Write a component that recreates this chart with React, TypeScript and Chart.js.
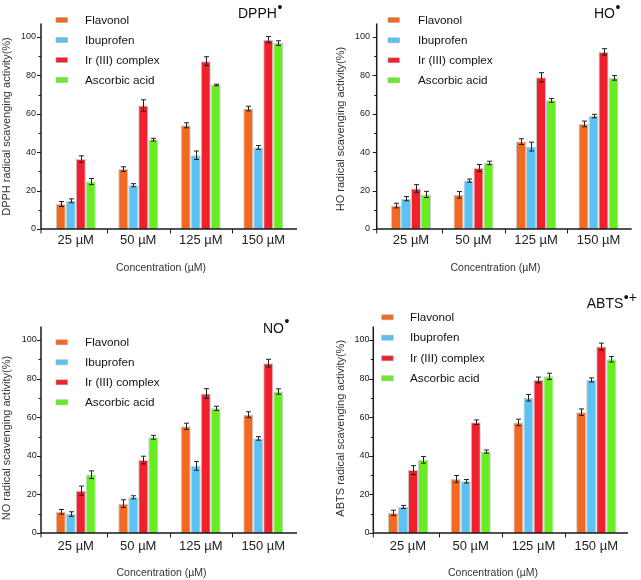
import React, { useEffect, useRef } from "react";
import { Chart, registerables } from "chart.js";
Chart.register(...registerables);

const FONT = "'Liberation Sans', Arial, sans-serif";

// ---------- data ----------
const categories = ["25 µM", "50 µM", "125 µM", "150 µM"];
const seriesNames = ["Flavonol", "Ibuprofen", "Ir (III) complex", "Ascorbic acid"];
const yTickValues = [0, 20, 40, 60, 80, 100];
const yMinorTickValues = [10, 30, 50, 70, 90];
const xAxisTitle = "Concentration (µM)";

const dpphFlavonol = [13.0, 31.2, 54.0, 62.7];
const dpphFlavonolErr = [1.3, 1.2, 1.3, 1.2];
const dpphIbuprofen = [14.7, 22.8, 38.4, 42.5];
const dpphIbuprofenErr = [1.0, 0.8, 2.2, 1.0];
const dpphIr = [36.4, 64.3, 87.4, 98.6];
const dpphIrErr = [1.7, 3.0, 2.3, 1.6];
const dpphAscorbic = [24.7, 46.5, 75.0, 96.8];
const dpphAscorbicErr = [1.6, 0.7, 0.4, 1.2];

const hoFlavonol = [12.2, 17.8, 45.5, 54.7];
const hoFlavonolErr = [1.2, 1.7, 1.5, 1.5];
const hoIbuprofen = [15.8, 25.2, 42.9, 58.8];
const hoIbuprofenErr = [1.1, 0.8, 2.3, 0.9];
const hoIr = [21.1, 31.8, 79.0, 92.2];
const hoIrErr = [2.0, 1.8, 2.4, 1.7];
const hoAscorbic = [18.0, 34.4, 67.0, 78.7];
const hoAscorbicErr = [1.6, 0.9, 1.0, 1.2];

const noFlavonol = [11.0, 15.2, 55.3, 61.3];
const noFlavonolErr = [1.2, 2.0, 1.6, 1.5];
const noIbuprofen = [9.8, 18.5, 34.8, 49.0];
const noIbuprofenErr = [1.2, 0.8, 2.3, 0.9];
const noIr = [21.9, 37.8, 72.3, 88.0];
const noIrErr = [2.4, 2.0, 2.5, 2.0];
const noAscorbic = [30.2, 49.6, 64.6, 73.3];
const noAscorbicErr = [2.0, 1.0, 1.1, 1.4];

const abtsFlavonol = [10.4, 28.0, 57.3, 62.6];
const abtsFlavonolErr = [1.4, 1.8, 1.7, 1.7];
const abtsIbuprofen = [13.5, 26.8, 70.1, 79.3];
const abtsIbuprofenErr = [0.8, 0.9, 1.7, 1.1];
const abtsIr = [32.6, 57.4, 79.3, 96.6];
const abtsIrErr = [2.3, 1.2, 1.5, 1.8];
const abtsAscorbic = [37.9, 42.2, 81.2, 90.0];
const abtsAscorbicErr = [1.7, 0.8, 1.6, 1.4];

// ---------- styles ----------
const seriesColors = ["#F26A22", "#5BC3F3", "#F0202C", "#66EE22"];
const AXIS_MAX = 107;

type Layout = {
  left: number; top: number; w: number; h: number;
  axisX: number; catStart: number; catEnd: number; xEnd: number;
  zeroY: number; areaTop: number;
  xPad: number; yPad: number;
  legX: number; legTextX: number; legY: number[];
  titleX: number; titleY: number;
  yTitleX: number; yTitleY: number;
  xTitleX: number; xTitleY: number;
};

type PanelDef = {
  title: string; sup: string; yTitle: string;
  values: number[][]; errors: number[][];
  layout: Layout;
};

const panels: PanelDef[] = [
  {
    title: "DPPH", sup: "•", yTitle: "DPPH radical scavenging activity(%)",
    values: [dpphFlavonol, dpphIbuprofen, dpphIr, dpphAscorbic],
    errors: [dpphFlavonolErr, dpphIbuprofenErr, dpphIrErr, dpphAscorbicErr],
    layout: {
      left: 0, top: 0, w: 320, h: 290,
      axisX: 41, catStart: 44.5, catEnd: 294.5, xEnd: 297,
      zeroY: 229, areaTop: 23.5, xPad: 3.5, yPad: 8.5,
      legX: 56, legTextX: 85, legY: [20, 40, 60, 80],
      titleX: 238, titleY: 18.3,
      yTitleX: 7, yTitleY: 126.5, xTitleX: 161, xTitleY: 268,
    },
  },
  {
    title: "HO", sup: "•", yTitle: "HO radical scavenging activity(%)",
    values: [hoFlavonol, hoIbuprofen, hoIr, hoAscorbic],
    errors: [hoFlavonolErr, hoIbuprofenErr, hoIrErr, hoAscorbicErr],
    layout: {
      left: 320, top: 0, w: 321, h: 290,
      axisX: 56.7, catStart: 59.75, catEnd: 309.75, xEnd: 311.7,
      zeroY: 229, areaTop: 23.5, xPad: 3.9, yPad: 9.75,
      legX: 68, legTextX: 98, legY: [20, 40.3, 60.3, 80.3],
      titleX: 274, titleY: 18.3,
      yTitleX: 20.7, yTitleY: 129, xTitleX: 175.5, xTitleY: 268,
    },
  },
  {
    title: "NO", sup: "•", yTitle: "NO radical scavenging activity(%)",
    values: [noFlavonol, noIbuprofen, noIr, noAscorbic],
    errors: [noFlavonolErr, noIbuprofenErr, noIrErr, noAscorbicErr],
    layout: {
      left: 0, top: 290, w: 320, h: 290,
      axisX: 41, catStart: 44.5, catEnd: 294.5, xEnd: 297,
      zeroY: 243, areaTop: 36.5, xPad: 5.2, yPad: 7.8,
      legX: 56, legTextX: 85, legY: [52.3, 72.3, 92.3, 112.3],
      titleX: 263, titleY: 42.7,
      yTitleX: 7, yTitleY: 148, xTitleX: 161.5, xTitleY: 283.3,
    },
  },
  {
    title: "ABTS", sup: "•+", yTitle: "ABTS radical scavenging activity(%)",
    values: [abtsFlavonol, abtsIbuprofen, abtsIr, abtsAscorbic],
    errors: [abtsFlavonolErr, abtsIbuprofenErr, abtsIrErr, abtsAscorbicErr],
    layout: {
      left: 320, top: 290, w: 321, h: 290,
      axisX: 53.3, catStart: 56.6, catEnd: 307.6, xEnd: 308,
      zeroY: 243, areaTop: 36.5, xPad: 5.2, yPad: 7.2,
      legX: 61.7, legTextX: 90, legY: [27.3, 47.7, 68.3, 88.3],
      titleX: 266.7, titleY: 18.3,
      yTitleX: 20.7, yTitleY: 138.3, xTitleX: 173, xTitleY: 283.3,
    },
  },
];

function PanelChart({ panel }: { panel: PanelDef }) {
  const ref = useRef<HTMLCanvasElement>(null);
  useEffect(() => {
    const L = panel.layout;
    const deco = {
      id: "deco",
      afterDatasetsDraw(chart: any) {
        const ctx = chart.ctx;
        const ys = chart.scales.y;
        ctx.save();
        ctx.strokeStyle = "#222";
        ctx.lineWidth = 1;
        panel.values.forEach((vals, i) => {
          const meta = chart.getDatasetMeta(i);
          vals.forEach((v, j) => {
            const e = panel.errors[i][j];
            const x = Math.round(meta.data[j].x) + 0.5;
            const y1 = ys.getPixelForValue(v + e);
            const y2 = ys.getPixelForValue(v - e);
            ctx.beginPath();
            ctx.moveTo(x, y1); ctx.lineTo(x, y2);
            ctx.moveTo(x - 2.5, y1); ctx.lineTo(x + 2.5, y1);
            ctx.moveTo(x - 2.5, y2); ctx.lineTo(x + 2.5, y2);
            ctx.stroke();
          });
        });
        ctx.restore();
      },
      afterDraw(chart: any) {
        const ctx = chart.ctx;
        const ys = chart.scales.y;
        const xs = chart.scales.x;
        const area = chart.chartArea;
        ctx.save();
        // axes
        ctx.strokeStyle = "#1a1a1a";
        ctx.lineWidth = 1.5;
        ctx.beginPath();
        ctx.moveTo(L.axisX, area.top);
        ctx.lineTo(L.axisX, L.zeroY);
        ctx.lineTo(L.xEnd, L.zeroY);
        ctx.stroke();
        ctx.lineWidth = 1;
        ctx.beginPath();
        yTickValues.forEach((v) => {
          const y = Math.round(ys.getPixelForValue(v)) + 0.5;
          ctx.moveTo(L.axisX - 4, y); ctx.lineTo(L.axisX, y);
        });
        yMinorTickValues.forEach((v) => {
          const y = Math.round(ys.getPixelForValue(v)) + 0.5;
          ctx.moveTo(L.axisX - 2.5, y); ctx.lineTo(L.axisX, y);
        });
        const half = (xs.getPixelForValue(1) - xs.getPixelForValue(0)) / 2;
        const xt = [L.axisX];
        for (let i = 1; i < categories.length; i++) xt.push(Math.round(xs.getPixelForValue(i) - half) + 0.5);
        xt.forEach((x) => { ctx.moveTo(x, L.zeroY); ctx.lineTo(x, L.zeroY + 4.5); });
        ctx.stroke();

        // legend
        ctx.font = `11.7px ${FONT}`;
        ctx.textBaseline = "middle";
        ctx.textAlign = "left";
        seriesNames.forEach((name, i) => {
          const cy = L.legY[i];
          ctx.fillStyle = seriesColors[i];
          ctx.fillRect(L.legX, cy - 2.5, 11.5, 5);
          ctx.strokeStyle = "rgba(170,170,170,0.7)";
          ctx.lineWidth = 0.8;
          ctx.strokeRect(L.legX, cy - 2.5, 11.5, 5);
          ctx.fillStyle = "#111";
          ctx.fillText(name, L.legTextX, cy + 0.5);
        });

        // panel title
        ctx.fillStyle = "#111";
        ctx.textBaseline = "alphabetic";
        ctx.font = `14px ${FONT}`;
        ctx.fillText(panel.title, L.titleX, L.titleY);
        const tw = ctx.measureText(panel.title).width;
        ctx.fillText(panel.sup, L.titleX + tw + 0.5, L.titleY - 6.5);

        // axis titles
        ctx.fillStyle = "#333";
        ctx.textAlign = "center";
        ctx.textBaseline = "middle";
        ctx.font = `10.5px ${FONT}`;
        ctx.fillText(xAxisTitle, L.xTitleX, L.xTitleY);
        ctx.font = `11px ${FONT}`;
        ctx.translate(L.yTitleX, L.yTitleY);
        ctx.rotate(-Math.PI / 2);
        ctx.fillText(panel.yTitle, 0, 0);
        ctx.restore();
      },
    };

    const chart = new Chart(ref.current as HTMLCanvasElement, {
      type: "bar",
      data: {
        labels: categories,
        datasets: panel.values.map((vals, i) => ({
          label: seriesNames[i],
          data: vals,
          backgroundColor: seriesColors[i],
          borderColor: "rgba(160,160,160,0.55)",
          borderWidth: 1,
          categoryPercentage: 0.64,
          barPercentage: 1,
        })),
      },
      options: {
        responsive: false,
        animation: false,
        devicePixelRatio: 1,
        layout: { padding: { left: 0, top: L.areaTop, right: L.w - L.catEnd, bottom: 0 } },
        plugins: { legend: { display: false }, tooltip: { enabled: false } },
        scales: {
          x: {
            grid: { display: false, drawTicks: false },
            border: { display: false },
            ticks: {
              font: { family: FONT, size: 13 },
              color: "#222",
              padding: L.xPad,
              maxRotation: 0,
              autoSkip: false,
            },
            afterFit: (s: any) => { s.height = L.h - L.zeroY; },
          },
          y: {
            min: 0,
            max: AXIS_MAX,
            grid: { display: false, drawTicks: false },
            border: { display: false },
            ticks: { font: { family: FONT, size: 9 }, color: "#222", padding: L.yPad },
            afterBuildTicks: (s: any) => { s.ticks = yTickValues.map((v) => ({ value: v })); },
            afterFit: (s: any) => { s.width = L.catStart; },
          },
        },
      } as any,
      plugins: [deco],
    });
    return () => chart.destroy();
  }, [panel]);

  const L = panel.layout;
  return (
    <canvas
      ref={ref}
      width={L.w}
      height={L.h}
      style={{ position: "absolute", left: L.left, top: L.top, width: L.w, height: L.h }}
    />
  );
}

export default function App() {
  return (
    <div style={{ position: "absolute", left: 0, top: 0, width: 641, height: 580, background: "#fff" }}>
      {panels.map((p, i) => (
        <PanelChart key={i} panel={p} />
      ))}
    </div>
  );
}
